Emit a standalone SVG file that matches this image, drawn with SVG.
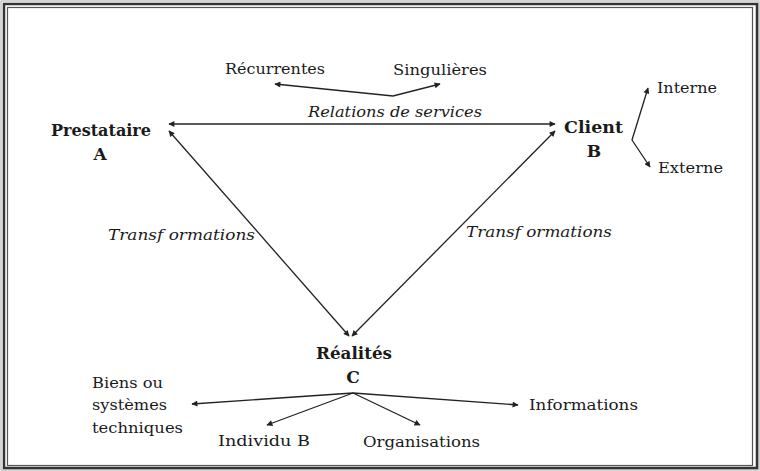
<svg xmlns="http://www.w3.org/2000/svg" width="760" height="471" viewBox="0 0 760 471">
<style>
text{font-family:"DejaVu Serif","Liberation Serif",serif;fill:#1a1a1a;font-size:15px}
.b{font-weight:bold;font-size:17px}
.i{font-style:italic;font-size:15.5px}
.c{text-anchor:middle}
.ln{fill:none;stroke:#222;stroke-width:1.3}
</style>
<defs>
<marker id="ah" viewBox="0 0 10 10" refX="9" refY="5" markerWidth="7" markerHeight="6" markerUnits="userSpaceOnUse" orient="auto-start-reverse">
<path d="M0,0 L10,5 L0,10 Z" fill="#222"/>
</marker>
</defs>
<rect width="760" height="471" fill="#fff"/>
<g id="frame" fill="none">
<rect x="1" y="1" width="758" height="469" stroke="#aaa" stroke-width="1"/>
<rect x="4" y="4" width="753" height="464" stroke="#333" stroke-width="2.5"/>
<rect x="7.5" y="7.5" width="745" height="458" stroke="#555" stroke-width="1.2"/>
</g>
<g id="connectors" class="ln">
<path class="ln" d="M169,124 L555,124" marker-start="url(#ah)" marker-end="url(#ah)"/>
<path class="ln" d="M169,131 L349,336" marker-start="url(#ah)" marker-end="url(#ah)"/>
<path class="ln" d="M555,131 L352,336" marker-start="url(#ah)" marker-end="url(#ah)"/>
<path class="ln" d="M275,84 L393,96 L440,84" marker-start="url(#ah)" marker-end="url(#ah)"/>
<path class="ln" d="M648,88 L632,140 L650,167" marker-start="url(#ah)" marker-end="url(#ah)"/>
<path class="ln" d="M353,393 L192,404" marker-end="url(#ah)"/>
<path class="ln" d="M353,393 L267,425" marker-end="url(#ah)"/>
<path class="ln" d="M353,393 L420,425" marker-end="url(#ah)"/>
<path class="ln" d="M353,393 L518,405" marker-end="url(#ah)"/>
</g>
<g id="recurrentes"><text x="225" y="74" textLength="100" lengthAdjust="spacingAndGlyphs">Récurrentes</text></g>
<g id="singulieres"><text x="393" y="75" textLength="94" lengthAdjust="spacingAndGlyphs">Singulières</text></g>
<g id="relations"><text class="i" x="308" y="117" textLength="174" lengthAdjust="spacingAndGlyphs">Relations de services</text></g>
<g id="prestataire">
<text class="b" x="51" y="136" textLength="100" lengthAdjust="spacingAndGlyphs">Prestataire</text>
<text class="b c" x="100" y="160">A</text>
</g>
<g id="client">
<text class="b" x="564" y="133" textLength="59" lengthAdjust="spacingAndGlyphs">Client</text>
<text class="b c" x="594" y="157">B</text>
</g>
<g id="interne"><text x="657" y="93" textLength="60" lengthAdjust="spacingAndGlyphs">Interne</text></g>
<g id="externe"><text x="658" y="173" textLength="65" lengthAdjust="spacingAndGlyphs">Externe</text></g>
<g id="transf-left"><text class="i" x="108" y="240" textLength="147" lengthAdjust="spacingAndGlyphs">Transf ormations</text></g>
<g id="transf-right"><text class="i" x="466" y="237" textLength="146" lengthAdjust="spacingAndGlyphs">Transf ormations</text></g>
<g id="realites">
<text class="b" x="316" y="359" textLength="76" lengthAdjust="spacingAndGlyphs">Réalités</text>
<text class="b c" x="353" y="383">C</text>
</g>
<g id="biens">
<text x="92" y="388" textLength="71" lengthAdjust="spacingAndGlyphs">Biens ou</text>
<text x="92" y="410" textLength="75" lengthAdjust="spacingAndGlyphs">systèmes</text>
<text x="92" y="433" textLength="91" lengthAdjust="spacingAndGlyphs">techniques</text>
</g>
<g id="individu"><text x="218" y="446" textLength="92" lengthAdjust="spacingAndGlyphs">Individu B</text></g>
<g id="organisations"><text x="363" y="447" textLength="117" lengthAdjust="spacingAndGlyphs">Organisations</text></g>
<g id="informations"><text x="529" y="410" textLength="109" lengthAdjust="spacingAndGlyphs">Informations</text></g>
</svg>
